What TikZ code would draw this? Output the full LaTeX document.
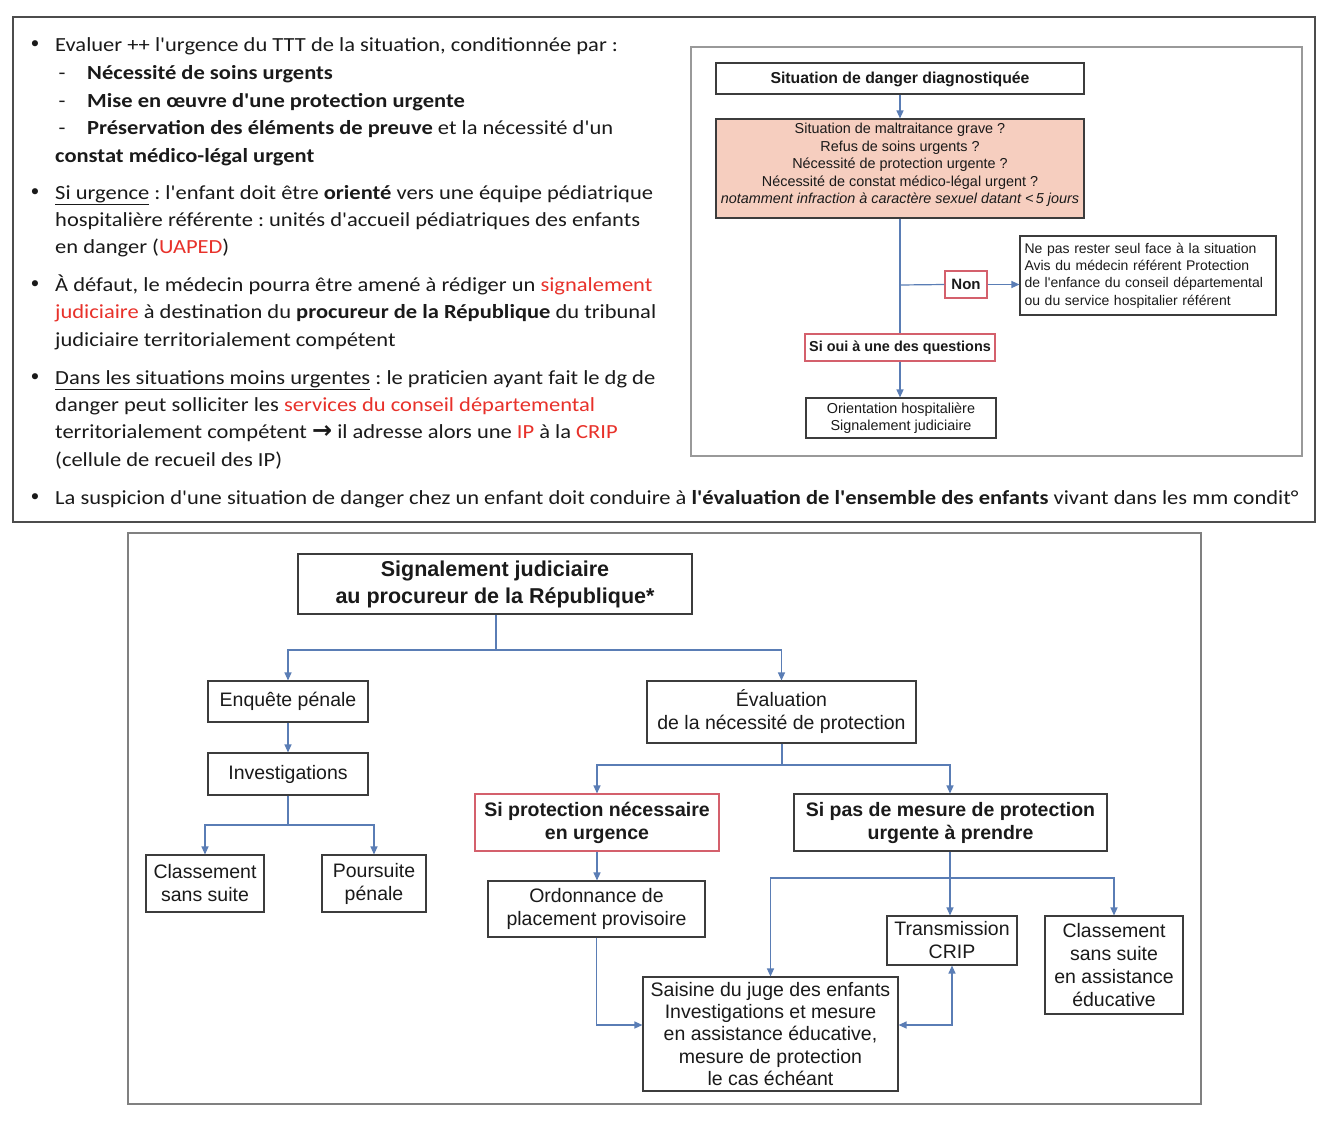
\documentclass[tikz,border=0pt]{standalone}
\usepackage{fontspec}
\usetikzlibrary{arrows.meta}
\newfontfamily\calfont[FakeStretch=1.125]{Carlito}
\newfontfamily\arialfont{Liberation Sans}
\newfontfamily\dejafont{DejaVu Sans}
\definecolor{redt}{HTML}{E8312A}
\definecolor{txt}{HTML}{1A1A1A}
\definecolor{boxc}{HTML}{3C3C3C}
\definecolor{redb}{HTML}{D4606C}
\definecolor{pinkf}{HTML}{F6CEBF}
\definecolor{linec}{HTML}{5A7DB5}
\newcommand{\rt}[1]{\textcolor{redt}{#1}}
\frenchspacing
\begin{document}
\begin{tikzpicture}[x=1pt,y=-1pt,
  tl/.style={anchor=base west, inner sep=0pt, text=txt, font=\calfont\fontsize{20}{24}\selectfont},
  bul/.style={anchor=base, inner sep=0pt, text=txt, font=\dejafont\fontsize{21}{24}\selectfont},
  dsh/.style={anchor=base, inner sep=0pt, text=txt, font=\calfont\fontsize{20}{24}\selectfont},
  bx/.style={draw=boxc, line width=1.1pt, fill=white, inner sep=0pt, align=center, text=txt},
  sbx/.style={bx, font=\arialfont\fontsize{14.4}{17.4}\selectfont},
  bbx/.style={bx, font=\arialfont\fontsize{19.5}{23}\selectfont},
  ln/.style={draw=linec, line width=1.2pt},
  arr/.style={ln, -{Triangle[length=8pt,width=7pt]}},
  darr/.style={ln, {Triangle[length=8pt,width=7pt]}-{Triangle[length=8pt,width=7pt]}}
]
\useasboundingbox (0,0) rectangle (1334,1122);
\fill[white] (0,0) rectangle (1334,1122);

% frames
\draw[draw=black!70, line width=1.2pt] (13,17) rectangle (1315,522);
\draw[draw=black!40, line width=1.6pt] (691,47) rectangle (1302,456);
\draw[draw=black!50, line width=1.6pt] (128,533) rectangle (1201,1104);

% top text
\node[bul] (b1) at (35,51) {•};
\node[tl] (t1) at (55,51) {Evaluer ++ l'urgence du TTT de la situation, conditionnée par :};
\node[dsh] (d1) at (62,79) {-};
\node[tl] (t2) at (87,79) {\bfseries Nécessité de soins urgents};
\node[dsh] (d2) at (62,107) {-};
\node[tl] (t3) at (87,107) {\bfseries Mise en œuvre d'une protection urgente};
\node[dsh] (d3) at (62,134) {-};
\node[tl] (t4) at (87,134) {\textbf{Préservation des éléments de preuve} et la nécessité d'un};
\node[tl] (t5) at (55,162) {\bfseries constat médico-légal urgent};
\node[bul] (b2) at (35,199) {•};
\node[tl] (t6) at (55,199) {\underline{Si urgence} : l'enfant doit être \textbf{orienté} vers une équipe pédiatrique};
\node[tl] (t7) at (55,226) {hospitalière référente : unités d'accueil pédiatriques des enfants};
\node[tl] (t8) at (55,253) {en danger (\rt{UAPED})};
\node[bul] (b3) at (35,291) {•};
\node[tl] (t9) at (55,291) {À défaut, le médecin pourra être amené à rédiger un \rt{signalement}};
\node[tl] (t10) at (55,318) {\rt{judiciaire} à destination du \textbf{procureur de la République} du tribunal};
\node[tl] (t11) at (55,346) {judiciaire territorialement compétent};
\node[bul] (b4) at (35,384) {•};
\node[tl] (t12) at (55,384) {\underline{Dans les situations moins urgentes} : le praticien ayant fait le dg de};
\node[tl] (t13) at (55,411) {danger peut solliciter les \rt{services du conseil départemental}};
\node[tl] (t14) at (55,438) {territorialement compétent {\dejafont\bfseries\fontsize{24}{24}\selectfont →} il adresse alors une \rt{IP} à la \rt{CRIP}};
\node[tl] (t15) at (55,466) {(cellule de recueil des IP)};
\node[bul] (b5) at (35,504) {•};
\node[tl] (t16) at (55,504) {La suspicion d'une situation de danger chez un enfant doit conduire à \textbf{l'évaluation de l'ensemble des enfants} vivant dans les mm condit°};

% top-right flowchart
\node[sbx, font=\arialfont\bfseries\fontsize{15.8}{18}\selectfont, minimum width=368pt, minimum height=31pt, text depth=1pt] (sd) at (900,78.5) {Situation de danger diagnostiquée};
\node[sbx, fill=pinkf, minimum width=368pt, minimum height=99pt] (pk) at (900,168.5) {};
\node[inner sep=0pt, align=center, text=txt, font=\arialfont\fontsize{14.4}{17.6}\selectfont] (pktxt) at (900,165) {Situation de maltraitance grave ?\\Refus de soins urgents ?\\Nécessité de protection urgente ?\\Nécessité de constat médico-légal urgent ?\\\itshape notamment infraction à caractère sexuel datant <\,5 jours};
\node[sbx, draw=redb, font=\arialfont\bfseries\fontsize{15}{18}\selectfont, minimum width=42pt, minimum height=27pt] (non) at (966,284.5) {Non};
\node[sbx, font=\arialfont\fontsize{14}{17.3}\selectfont, align=left, text width=247pt, inner xsep=4.5pt, minimum height=79pt] (avis) at (1148,275.5) {Ne pas rester seul face à la situation\\Avis du médecin référent Protection\\de l'enfance du conseil départemental\\ou du service hospitalier référent};
\node[sbx, draw=redb, font=\arialfont\bfseries\fontsize{14.4}{17}\selectfont, minimum width=190pt, minimum height=27pt] (oui) at (900,347.5) {Si oui à une des questions};
\node[sbx, minimum width=190pt, minimum height=40pt] (ori) at (901,418) {Orientation hospitalière\\Signalement judiciaire};
\coordinate (jn) at (900,285);
\draw[arr] (sd.south) -- (pk.north);
\draw[ln] (pk.south) -- (oui.north);
\draw[ln] (jn) -- (non.west);
\draw[arr] (non.east) -- (avis.west |- non.east);
\draw[arr] (oui.south) -- (ori.north -| oui.south);

% bottom flowchart
\node[bbx, font=\arialfont\bfseries\fontsize{21.5}{27}\selectfont, minimum width=394pt, minimum height=60pt] (sig) at (495,584) {Signalement judiciaire\\au procureur de la République*};
\node[bbx, minimum width=160pt, minimum height=41pt] (enq) at (288,701.5) {Enquête pénale};
\node[bbx, minimum width=160pt, minimum height=42pt] (inv) at (288,774) {Investigations};
\node[bbx, minimum width=118pt, minimum height=57pt] (cl1) at (205,883.5) {Classement\\sans suite};
\node[bbx, minimum width=104pt, minimum height=57pt] (pou) at (374,883.5) {Poursuite\\pénale};
\node[bbx, minimum width=269pt, minimum height=62pt] (eva) at (781.5,712) {Évaluation\\de la nécessité de protection};
\node[bbx, draw=redb, font=\arialfont\bfseries\fontsize{19.5}{23}\selectfont, minimum width=244pt, minimum height=57pt] (sip) at (597,822.5) {Si protection nécessaire\\en urgence};
\node[bbx, font=\arialfont\bfseries\fontsize{19.5}{23}\selectfont, minimum width=313pt, minimum height=57pt] (spm) at (950.5,822.5) {Si pas de mesure de protection\\urgente à prendre};
\node[bbx, minimum width=217pt, minimum height=56pt] (ord) at (596.5,909) {Ordonnance de\\placement provisoire};
\node[bbx, font=\arialfont\fontsize{19.5}{22.3}\selectfont, minimum width=255pt, minimum height=114pt] (sai) at (770.5,1034) {Saisine du juge des enfants\\Investigations et mesure\\en assistance éducative,\\mesure de protection\\le cas échéant};
\node[bbx, minimum width=130pt, minimum height=49pt] (tra) at (952,940.5) {Transmission\\CRIP};
\node[bbx, font=\arialfont\fontsize{19.5}{22.8}\selectfont, minimum width=138pt, minimum height=98pt] (cl2) at (1114,965) {Classement\\sans suite\\en assistance\\éducative};

\coordinate (j1) at (496,650);
\coordinate (j2) at (288,825);
\coordinate (j3) at (782,765);
\coordinate (j4) at (950,878);
\draw[ln] (sig.south -| j1) -- (j1);
\draw[arr] (j1) -| (enq.north);
\draw[arr] (j1) -| (eva.north);
\draw[arr] (enq.south) -- (inv.north);
\draw[ln] (inv.south) -- (j2);
\draw[arr] (j2) -| (cl1.north);
\draw[arr] (j2) -| (pou.north);
\draw[ln] (eva.south -| j3) -- (j3);
\draw[arr] (j3) -| (sip.north);
\draw[arr] (j3) -| (spm.north -| j4);
\draw[arr] (sip.south) -- (ord.north -| sip.south);
\draw[arr] (ord.south) |- ([yshift=9pt]sai.west);
\draw[ln] (spm.south -| j4) -- (j4);
\draw[arr] (j4) -| (sai.north);
\draw[arr] (j4) -- (tra.north -| j4);
\draw[arr] (j4) -| (cl2.north);
\draw[darr] ([yshift=9pt]sai.east) -| (tra.south);
\end{tikzpicture}
\end{document}
